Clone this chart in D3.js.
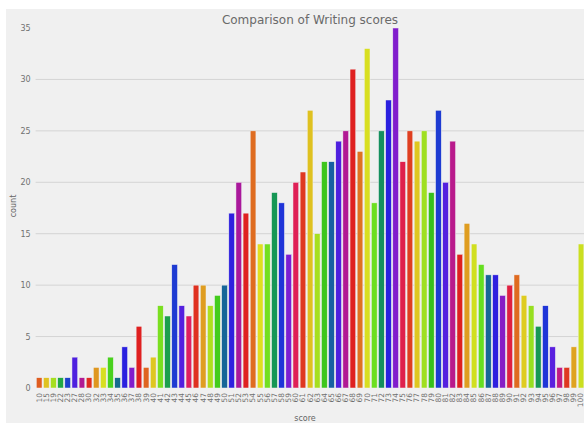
<!DOCTYPE html>
<html>
<head>
	<meta charset="utf-8">
	<title>Comparison of Writing scores</title>
	<script src="https://cdn.jsdelivr.net/npm/d3@7/dist/d3.min.js"></script>
	<style>
	body { margin: 0; background: #ffffff; }
	svg text { font-family: "DejaVu Sans", sans-serif; fill: #666666; }
	</style>
</head>
<body>
<script>
	var scores = ["10","15","19","22","23","27","28","30","32","33","34","35","36","37","38","39","40",
		"41","42","43","44","45","46","47","48","49","50","51","52","53","54","55","56","57","58","59","60",
		"61","62","63","64","65","66","67","68","69","70","71","72","73","74","75","76","77","78","79","80",
		"81","82","83","84","85","86","87","88","89","90","91","92","93","94","95","96","97","98","99","100"];
	var counts = [1,1,1,1,1,3,1,1,2,2,3,1,4,2,6,2,3,
		8,7,12,8,7,10,10,8,9,10,17,20,17,25,14,14,19,18,13,20,
		21,27,15,22,22,24,25,31,23,33,18,25,28,35,22,25,24,25,19,27,
		20,24,13,16,14,12,11,11,9,10,11,9,8,6,8,4,2,2,4,14];
	var yTicks = [0, 5, 10, 15, 20, 25, 30, 35];

	var w = 584, h = 423;
	var margin = {top: 28, left: 35.6, right: -0.6, bottom: 35};

	var svg = d3.select("body").append("svg").attr("width", w).attr("height", h);

	// figure background
	svg.append("rect").attr("x", 6).attr("y", 9).attr("width", w - 6).attr("height", h - 9).attr("fill", "#f0f0f0");

	var x = d3.scaleBand().domain(scores).range([margin.left, w - margin.right]).paddingInner(0.2).paddingOuter(0.1);
	var y = d3.scaleLinear().domain([0, 35]).range([h - margin.bottom, margin.top]);

	// matplotlib "prism" colormap sampled like seaborn, then desaturated to 0.75
	function prism(k, n) {
		var i = Math.min(255, Math.floor((k + 1) / (n + 1) * 256));
		var v = i / 255 * 20.9;
		var cl = function(a){ return Math.max(0, Math.min(1, a)); };
		var r = cl(0.75 * Math.sin((v + 0.25) * Math.PI) + 0.67);
		var g = cl(0.75 * Math.sin((v - 0.25) * Math.PI) + 0.33);
		var b = cl(-1.1 * Math.sin(v * Math.PI));
		var c = d3.hsl(d3.rgb(r * 255, g * 255, b * 255));
		c.s *= 0.75;
		return c.formatRgb();
	}

	// grid
	svg.append("g").selectAll("line").data(yTicks.filter(function(d){ return d > 0 && d < 35; })).enter().append("line")
		.attr("x1", margin.left).attr("x2", w)
		.attr("y1", function(d){ return y(d); }).attr("y2", function(d){ return y(d); })
		.attr("stroke", "#d4d4d4").attr("stroke-width", 1);

	var yAxis = d3.axisLeft(y).tickValues(yTicks).tickSize(0).tickPadding(5);
	var gy = svg.append("g").attr("transform", "translate(" + (margin.left) + ",0)").call(yAxis);
	gy.select(".domain").remove();
	gy.selectAll("text").attr("font-size", "8px").style("fill", "#707070");

	svg.append("g").selectAll("rect").data(counts).enter().append("rect")
		.attr("x", function(d, i){ return x(scores[i]); })
		.attr("width", x.bandwidth())
		.attr("y", function(d){ return y(d); })
		.attr("height", function(d){ return y(0) - y(d); })
		.attr("fill", function(d, i){ return prism(i, scores.length); })
		.attr("stroke", "#f0f0f0").attr("stroke-width", 0.5);

	var xAxis = d3.axisBottom(x).tickSize(0).tickPadding(0);
	var gx = svg.append("g").attr("transform", "translate(0," + (h - margin.bottom) + ")").call(xAxis);
	gx.select(".domain").remove();
	gx.selectAll("text")
		.attr("font-size", "7.5px")
		.attr("transform", "rotate(-90)")
		.attr("x", -5).attr("y", 0).attr("dy", "0.32em")
		.attr("text-anchor", "end")
		.style("fill", "#707070");

	svg.append("text").attr("x", 310).attr("y", 24).attr("text-anchor", "middle")
		.attr("font-size", "12px").style("fill", "#6a6a6a").text("Comparison of Writing scores");
	svg.append("text").attr("x", 305).attr("y", 421).attr("text-anchor", "middle")
		.attr("font-size", "8px").text("score");
	svg.append("text").attr("transform", "translate(16,206) rotate(-90)").attr("text-anchor", "middle")
		.attr("font-size", "8px").text("count");
</script>
</body>
</html>
